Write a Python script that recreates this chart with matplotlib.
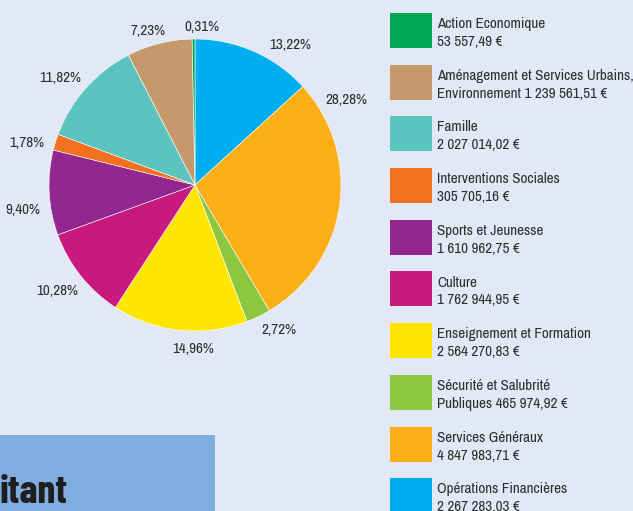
import matplotlib
matplotlib.use("Agg")
import matplotlib.pyplot as plt
from matplotlib import font_manager as fm
from matplotlib.patches import Rectangle
import numpy as np

# données (ordre de la légende)
categories = ["Action Economique",
              "Aménagement et Services Urbains,\nEnvironnement",
              "Famille",
              "Interventions Sociales",
              "Sports et Jeunesse",
              "Culture",
              "Enseignement et Formation",
              "Sécurité et Salubrité\nPubliques",
              "Services Généraux",
              "Opérations Financières"]
montants = [53557.49, 1239561.51, 2027014.02, 305705.16, 1610962.75,
            1762944.95, 2564270.83, 465974.92, 4847983.71, 2267283.03]
couleurs = ["#00A651", "#C49A6C", "#5CC4BE", "#F37021", "#92278F",
            "#C8197E", "#FFE600", "#8DC63F", "#FCAF17", "#00AEEF"]

FOND = "#E2E8F5"
GRIS = "#2E2E2E"


def police_dispo(nom):
    try:
        fm.findfont(fm.FontProperties(family=nom), fallback_to_default=False)
        return True
    except Exception:
        return False


# police étroite si elle existe, sinon Liberation Sans plus petite
if police_dispo("Archivo Narrow"):
    POLICE = ["Archivo Narrow", "DejaVu Sans"]
    T = 10.9
else:
    POLICE = ["Liberation Sans", "DejaVu Sans"]
    T = 8.8
if police_dispo("Barlow Condensed"):
    GRAS, TG = ["Barlow Condensed", "DejaVu Sans"], 29
else:
    GRAS, TG = ["Liberation Sans", "DejaVu Sans"], 22


def euro(v):
    s = f"{v:,.2f}".replace(",", " ").replace(".", ",")
    return s + " €"


def legende_txt(nom, v):
    if "\n" in nom:
        return nom + " " + euro(v)
    return nom + "\n" + euro(v)


fig = plt.figure(figsize=(6.33, 5.11), dpi=100, facecolor=FOND)

# camembert, sens horaire depuis le haut, ordre inverse de la légende
vals = montants[::-1]
cols = couleurs[::-1]
total = sum(vals)
pcts = [v / total * 100 for v in vals]

W, H = 633, 511
cx, cy, r = 195, 185, 146
ax = fig.add_axes([(cx - r) / W, (H - cy - r) / H, 2 * r / W, 2 * r / H])
wedges, _ = ax.pie(vals, colors=cols, startangle=90, counterclock=False,
                   radius=1, wedgeprops=dict(edgecolor="white", linewidth=0.4))
ax.set_xlim(-1, 1)
ax.set_ylim(-1, 1)
ax.set_aspect("equal")
ax.axis("off")

# placement des étiquettes (décalage d'angle, distance)
decal = [-10.4, 37.7, 4.3, 5.4, -0.9, 5.3, 3.1, 3.2, 2.9, -3.1]
dist = [1.16, 1.19, 1.15, 1.12, 1.19, 1.19, 1.19, 1.18, 1.10, 1.08]
for w, p, d, k in zip(wedges, pcts, decal, dist):
    ang = np.deg2rad((w.theta1 + w.theta2) / 2 + d)
    ax.text(k * np.cos(ang), k * np.sin(ang), f"{p:.2f}".replace(".", ",") + "%",
            ha="center", va="center", fontsize=T, color=GRIS,
            family=POLICE, clip_on=False)

# légende
lg = fig.add_axes([0, 0, 1, 1], facecolor="none")
lg.set_xlim(0, W)
lg.set_ylim(H, 0)
lg.axis("off")
for i, (nom, v, c) in enumerate(zip(categories, montants, couleurs)):
    y0 = 13 + i * 51.7
    lg.add_patch(Rectangle((390, y0), 42, 35, facecolor=c, edgecolor="none"))
    lg.text(437, y0 + 20, legende_txt(nom, v), ha="left", va="center",
            fontsize=T, color=GRIS, family=POLICE, linespacing=1.35)

# encadré bleu en bas à gauche
lg.add_patch(Rectangle((0, 435), 215, 80, facecolor="#80ACDF", edgecolor="none"))
lg.text(68, 503, "itant", ha="right", va="baseline", fontsize=TG,
        fontweight="bold", color="#1E1E1E", family=GRAS)

fig.savefig("out.png", dpi=100, facecolor=FOND)
